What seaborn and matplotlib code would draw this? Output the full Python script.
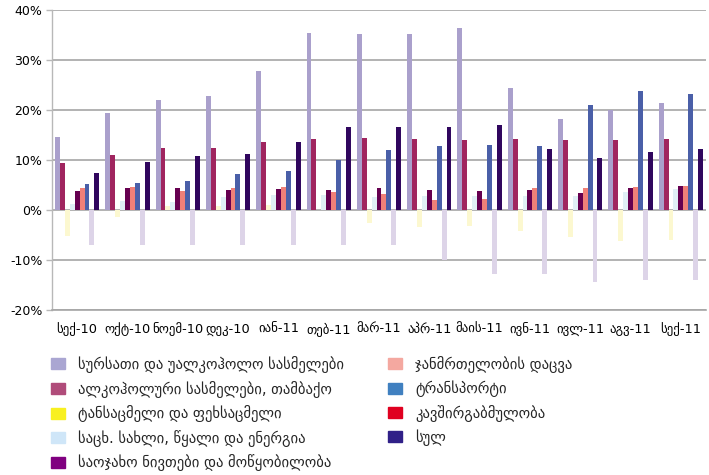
import matplotlib
matplotlib.use("Agg")
import matplotlib.pyplot as plt
import matplotlib.patches as mpatches
from matplotlib.ticker import FuncFormatter, MultipleLocator
import pandas as pd
import seaborn as sns

# Months (Georgian abbreviations)
months = ["სექ-10", "ოქტ-10", "ნოემ-10", "დეკ-10", "იან-11", "თებ-11", "მარ-11",
          "აპრ-11", "მაის-11", "ივნ-11", "ივლ-11", "აგვ-11", "სექ-11"]

# Annual inflation by CPI group, %
food = [14.65, 19.5, 22.1, 22.9, 27.9, 35.5, 35.3, 35.3, 36.5, 24.5, 18.3, 20.1, 21.5]
alcohol = [9.4, 11.0, 12.4, 12.4, 13.6, 14.2, 14.4, 14.2, 14.0, 14.2, 14.0, 14.0, 14.2]
clothing = [-5.1, -1.4, 0.8, 0.8, 1.0, 0.0, -2.6, -3.4, -3.2, -4.2, -5.4, -6.2, -6.0]
housing = [1.2, 1.8, 1.6, 2.6, 3.0, 3.0, 2.6, 2.8, 2.8, 2.8, 2.8, 3.6, 4.2]
household = [3.8, 4.4, 4.4, 4.0, 4.2, 4.0, 4.4, 4.0, 3.8, 4.0, 3.4, 4.4, 4.8]
health = [4.4, 4.6, 3.8, 4.4, 4.6, 3.6, 3.2, 2.0, 2.2, 4.4, 4.4, 4.6, 4.8]
transport = [5.2, 5.4, 5.8, 7.2, 7.8, 10.0, 12.0, 12.8, 13.0, 12.8, 21.1, 23.9, 23.3]
communication = [-7.0, -7.0, -7.0, -7.0, -7.0, -7.0, -7.0, -10.0, -12.8, -12.8, -14.4, -14.0, -14.0]
total = [7.4, 9.6, 10.8, 11.2, 13.6, 16.7, 16.7, 16.7, 17.1, 12.2, 10.4, 11.6, 12.2]

series_names = [
    "სურსათი და უალკოჰოლო სასმელები",
    "ალკოჰოლური სასმელები, თამბაქო",
    "ტანსაცმელი და ფეხსაცმელი",
    "საცხ. სახლი, წყალი და ენერგია",
    "საოჯახო ნივთები და მოწყობილობა",
    "ჯანმრთელობის დაცვა",
    "ტრანსპორტი",
    "კავშირგაბმულობა",
    "სულ",
]
series_values = [food, alcohol, clothing, housing, household, health,
                 transport, communication, total]

bar_colors = ["#aaa0cc", "#a0255f", "#fcf8d0", "#e0eff5", "#660050",
              "#f08078", "#4a5fa8", "#ddd4e8", "#30065e"]
legend_colors = ["#aaa6d2", "#b04c7a", "#f8f020", "#cfe6f8", "#800080",
                 "#f4a8a0", "#4080c0", "#e00020", "#302088"]

rows = []
for name, vals in zip(series_names, series_values):
    for m, v in zip(months, vals):
        rows.append({"month": m, "series": name, "value": v})
df = pd.DataFrame(rows)

sns.set_theme(style="white")
plt.rcParams["font.family"] = ["DejaVu Sans"]

fig = plt.figure(figsize=(7.09, 4.75), dpi=100)
ax = fig.add_axes([52 / 709, 1 - 310 / 475, 654 / 709, 300 / 475])

sns.barplot(data=df, x="month", y="value", hue="series", order=months,
            hue_order=series_names, palette=bar_colors, saturation=1,
            width=0.88, errorbar=None, linewidth=0, legend=False, ax=ax)

ax.set_ylim(-20, 40)
ax.set_xlim(-0.5, len(months) - 0.5)
ax.yaxis.set_major_locator(MultipleLocator(10))
ax.yaxis.set_major_formatter(FuncFormatter(lambda v, _: f"{v:.0f}%"))
ax.yaxis.grid(True, color="#a6a6a6", linewidth=1.2)
ax.set_axisbelow(True)
ax.set_xlabel("")
ax.set_ylabel("")

for side in ["top", "right"]:
    ax.spines[side].set_visible(False)
ax.spines["left"].set_color("#b8b8b8")
ax.spines["left"].set_linewidth(1.0)
ax.spines["bottom"].set_color("#a6a6a6")
ax.spines["bottom"].set_linewidth(1.2)

ax.tick_params(axis="y", which="major", length=4, width=1, color="#b8b8b8",
               pad=3, labelsize=9, labelcolor="#000000", left=True)
ax.tick_params(axis="x", length=0, pad=9, labelsize=9.3, labelcolor="#000000")

handles = [mpatches.Patch(color=c, label=n) for c, n in zip(legend_colors, series_names)]
legend_kw = dict(frameon=False, fontsize=10.5, handlelength=0.93, handleheight=0.79,
                 handletextpad=0.93, labelspacing=0.52, borderaxespad=0, borderpad=0)
fig.legend(handles=handles[:5], loc="upper left",
           bbox_to_anchor=(51 / 709, 1 - 356 / 475), **legend_kw)
fig.legend(handles=handles[5:], loc="upper left",
           bbox_to_anchor=(388 / 709, 1 - 356 / 475), **legend_kw)

fig.savefig("out.png", dpi=100)
